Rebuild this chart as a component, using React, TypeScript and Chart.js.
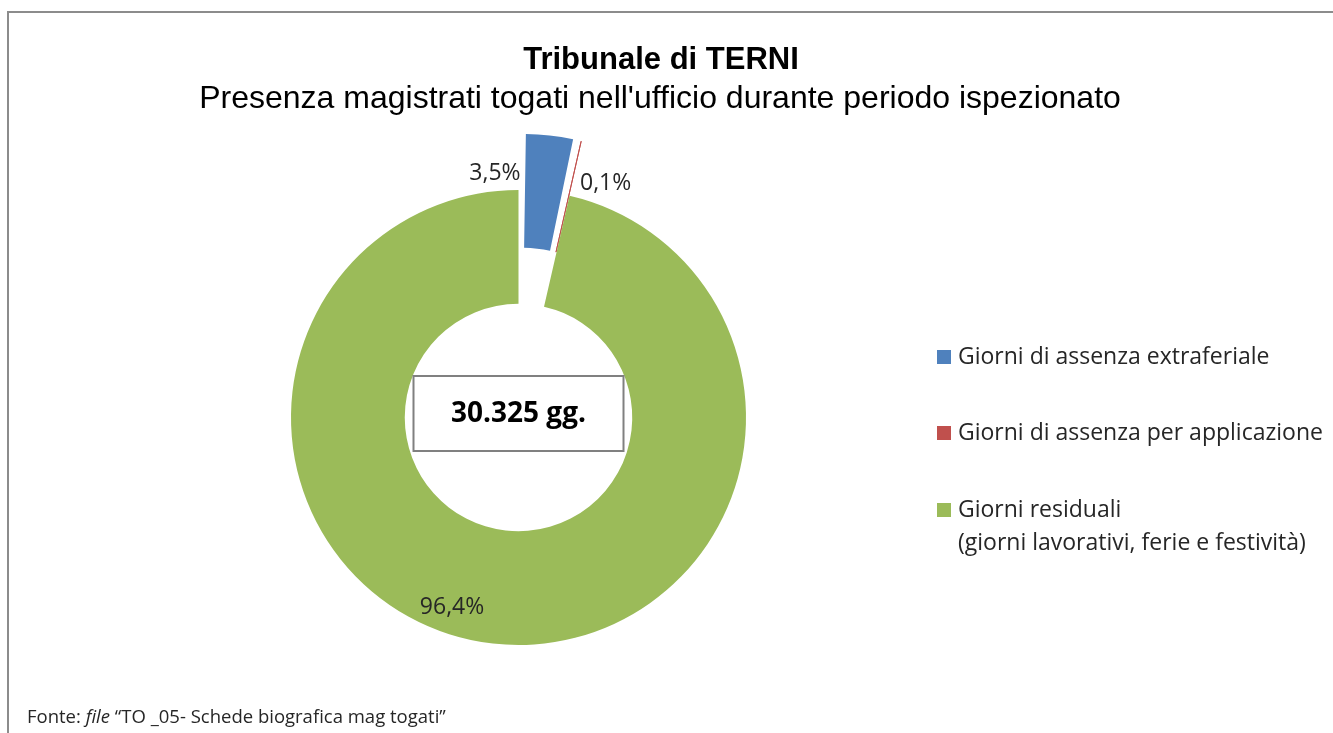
import React, { useEffect, useRef } from 'react';
import { Chart, registerables } from 'chart.js';

Chart.register(...registerables);

const categories: string[][] = [
  ['Giorni di assenza extraferiale'],
  ['Giorni di assenza per applicazione'],
  ['Giorni residuali', '(giorni lavorativi, ferie e festività)'],
];
const percentValues = [3.5, 0.1, 96.4];
const sliceColors = ['#4F81BD', '#C0504D', '#9BBB59'];
const sliceOffsets = [126, 112, 0];
const titleText = 'Tribunale di TERNI';
const subtitleText = "Presenza magistrati togati nell'ufficio durante periodo ispezionato";
const centerText = '30.325 gg.';
const sourcePrefix = 'Fonte: ';
const sourceItalic = 'file';
const sourceRest = ' \u201CTO _05- Schede biografica mag togati\u201D';

const W = 1333;
const H = 733;
const BODY_FONT = '"Open Sans", "Noto Sans", sans-serif';

const fmtPct = (v: number) => v.toFixed(1).replace('.', ',') + '%';

// per-slice label placement: [angle delta (deg) from slice mid angle, radius factor]
const labelPlacement: [number, number][] = [
  [-11.8, 1.08],
  [7.6, 1.1],
  [12.9, 0.88],
];

const decorPlugin = {
  id: 'decor',
  afterDraw(chart: any) {
    const ctx: CanvasRenderingContext2D = chart.ctx;
    const meta = chart.getDatasetMeta(0);
    const ds = chart.data.datasets[0];
    ctx.save();

    // frame
    ctx.strokeStyle = '#8c8c8c';
    ctx.lineWidth = 2;
    ctx.beginPath();
    ctx.moveTo(8, H + 5);
    ctx.lineTo(8, 12);
    ctx.lineTo(W + 5, 12);
    ctx.stroke();

    // titles
    ctx.fillStyle = '#000';
    ctx.textAlign = 'center';
    ctx.textBaseline = 'middle';
    ctx.font = 'bold 31px "Liberation Sans", Arial, sans-serif';
    ctx.fillText(titleText, 661, 60);
    ctx.font = '32px "Liberation Sans", Arial, sans-serif';
    ctx.fillText(subtitleText, 660, 99);

    // center box
    const arc0 = meta.data[0];
    const cx = arc0.x;
    const cy = arc0.y;
    ctx.fillStyle = '#fff';
    ctx.fillRect(cx - 105, cy - 41.5, 210, 75);
    ctx.strokeStyle = '#808080';
    ctx.lineWidth = 2;
    ctx.strokeRect(cx - 105, cy - 41.5, 210, 75);
    ctx.fillStyle = '#000';
    ctx.font = 'bold 28px ' + BODY_FONT;
    ctx.fillText(centerText, cx, cy - 3);

    // data labels
    ctx.font = '23px ' + BODY_FONT;
    ctx.fillStyle = '#262626';
    meta.data.forEach((arc: any, i: number) => {
      const p = arc.getProps(['startAngle', 'endAngle', 'outerRadius', 'x', 'y'], true);
      const mid = (p.startAngle + p.endAngle) / 2 + (labelPlacement[i][0] * Math.PI) / 180;
      const r = p.outerRadius * labelPlacement[i][1];
      ctx.fillText(fmtPct(ds.data[i]), p.x + Math.cos(mid) * r, p.y + Math.sin(mid) * r + 1);
    });

    // legend
    ctx.textAlign = 'left';
    ctx.font = '23px ' + BODY_FONT;
    const legendX = 937;
    const itemY = [357, 433, 510];
    chart.data.labels.forEach((lab: string[], i: number) => {
      ctx.fillStyle = ds.backgroundColor[i];
      ctx.fillRect(legendX, itemY[i] - 7, 14, 14);
      ctx.fillStyle = '#262626';
      lab.forEach((line, j) => ctx.fillText(line, legendX + 21, itemY[i] + j * 33));
    });

    // source note
    ctx.fillStyle = '#262626';
    ctx.font = '18.5px ' + BODY_FONT;
    let x = 27;
    const y = 718;
    ctx.fillText(sourcePrefix, x, y);
    x += ctx.measureText(sourcePrefix).width;
    ctx.font = 'italic 18.5px ' + BODY_FONT;
    ctx.fillText(sourceItalic, x, y);
    x += ctx.measureText(sourceItalic).width;
    ctx.font = '18.5px ' + BODY_FONT;
    ctx.fillText(sourceRest, x, y);

    ctx.restore();
  },
};

export default function App() {
  const ref = useRef<HTMLCanvasElement>(null);
  useEffect(() => {
    if (!ref.current) return;
    const chart = new Chart(ref.current, {
      type: 'doughnut',
      data: {
        labels: categories as any,
        datasets: [
          {
            data: percentValues,
            backgroundColor: sliceColors,
            borderColor: ['#ffffff', '#C0504D', '#ffffff'],
            borderWidth: [0, 1, 0],
            offset: sliceOffsets,
          },
        ],
      },
      options: {
        responsive: false,
        animation: false,
        cutout: '50%',
        layout: { padding: { left: 227.5, right: W - 809.5, top: 126.5, bottom: H - 708.5 } },
        plugins: {
          legend: { display: false },
          title: { display: false },
          tooltip: { enabled: false },
        },
      },
      plugins: [decorPlugin],
    });
    return () => chart.destroy();
  }, []);
  return (
    <div style={{ position: 'fixed', left: 0, top: 0, width: W, height: H, background: '#fff' }}>
      <canvas ref={ref} width={W} height={H} style={{ display: 'block' }} />
    </div>
  );
}
